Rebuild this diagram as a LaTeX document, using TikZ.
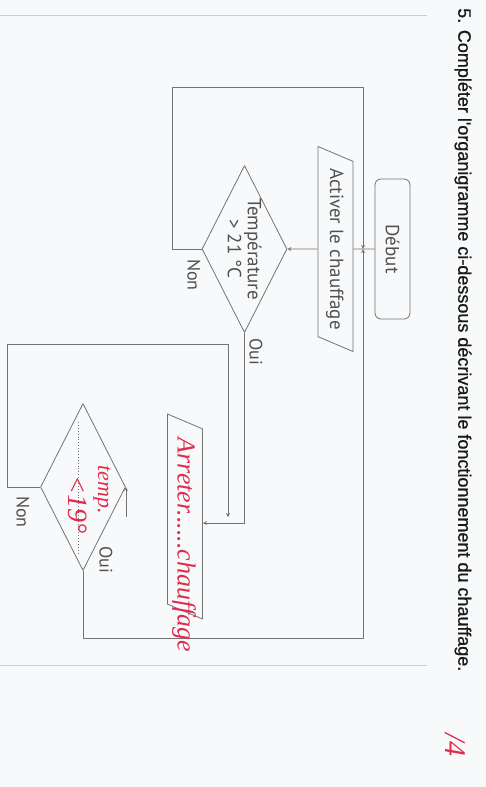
\documentclass[tikz,border=0pt]{standalone}
\usepackage{fontspec}
\setmainfont{PT Sans}
\newfontfamily\titrefont{Liberation Sans}[FakeBold=0.9]
\newfontfamily\stylofont{Liberation Serif}
\usetikzlibrary{shapes.geometric,positioning}
\definecolor{trait}{RGB}{115,115,115}
\definecolor{texte}{RGB}{80,80,80}
\definecolor{stylo}{RGB}{222,45,75}
\definecolor{papier}{RGB}{248,249,250}
\definecolor{regle}{RGB}{205,205,205}
\tikzset{
	debut/.style={draw=trait,line width=0.8pt,rounded corners=6pt,minimum width=140pt,minimum height=35pt,text=texte,font=\fontsize{19}{21}\selectfont},
	entree/.style={draw=trait,line width=0.8pt,trapezium,trapezium left angle=67,trapezium right angle=113,trapezium stretches body,minimum width=205pt,inner sep=0pt,text height=23pt,text depth=12pt,text=texte,font=\fontsize{19}{21}\selectfont},
	test/.style={draw=trait,line width=0.8pt,diamond,minimum width=167pt,minimum height=85pt,inner sep=0pt},
	dedans/.style={text=texte,align=center,font=\fontsize{19}{20}\selectfont},
	lien/.style={draw=trait,line width=0.8pt},
	etiq/.style={text=texte,font=\fontsize{18}{20}\selectfont},
	ecrit/.style={text=stylo,font=\stylofont\itshape},
}
\begin{document}
\begin{tikzpicture}[x=1pt,y=1pt,rotate=-90,transform shape,>=stealth,line join=round]
	\useasboundingbox[fill=papier] (0,0) rectangle (787,486);
	% page
	\draw[regle,line width=0.8pt] (15,0)--(15,427);
	\draw[regle,line width=0.8pt] (665,0)--(665,427);
	\node[anchor=west,inner sep=0pt,font=\titrefont\fontsize{18}{20}\selectfont,text=black!90] (titre) at (8,463) {5. Compléter l'organigramme ci-dessous décrivant le fonctionnement du chauffage.};
	\node[ecrit,font=\stylofont\itshape\fontsize{30}{32}\selectfont] (note) at (745,455) {/4};
	% blocs
	\node[debut] (debut) at (249,392.5) {Début};
	\node[entree] (activer) at (249,335.5) {Activer le chauffage};
	\node[test,label={[dedans]center:Température\\> 21 °C}] (temp) at (249,244.5) {};
	\node[entree] (arreter) at (516.5,185) {};
	\node[test] (test2) at (487,83) {};
	\coordinate (jonction) at (249,363);
	% retours
	\coordinate (non1a) at (249,172);
	\coordinate (non1b) at (87,172);
	\coordinate (non1c) at (87,363);
	\coordinate (oui1a) at (523,244.5);
	\coordinate (oui1b) at (523,203);
	\coordinate (non2a) at (487,7);
	\coordinate (non2b) at (344,7);
	\coordinate (non2c) at (344,228);
	\coordinate (non2d) at (517,228);
	\coordinate (oui2a) at (638,83);
	\coordinate (oui2b) at (638,363);
	% liaisons
	\draw[lien] (debut.south)--(activer.north);
	\draw[lien,->] (activer.south)--(temp.north);
	\draw[lien,->] (temp.south)--(non1a)--(non1b)--(non1c)--(jonction);
	\draw[lien,->] (temp.east)--(oui1a)--(oui1b);
	\draw[lien,->] (arreter.south |- test2.north)--(test2.north);
	\draw[lien,->] (test2.south)--(non2a)--(non2b)--(non2c)--(non2d);
	\draw[lien,->] (test2.east)--(oui2a)--(oui2b)--(jonction);
	\draw[trait,line width=0.9pt,dotted] (422,78)--(553,78);
	% etiquettes
	\node[etiq] (non1) at (275,194) {Non};
	\node[etiq] (oui1) at (352,256) {Oui};
	\node[etiq] (non2) at (512,23) {Non};
	\node[etiq] (oui2) at (560,106) {Oui};
	% reponses au stylo
	\node[ecrit,font=\stylofont\itshape\fontsize{22}{24}\selectfont] (cond1) at (490,102) {temp.};
	\node[ecrit,font=\stylofont\itshape\fontsize{28}{30}\selectfont] (cond2) at (505,78) {<19°};
	\node[ecrit,font=\stylofont\itshape\fontsize{26}{28}\selectfont] (action) at (545,184) {Arreter......chauffage};
\end{tikzpicture}
\end{document}
